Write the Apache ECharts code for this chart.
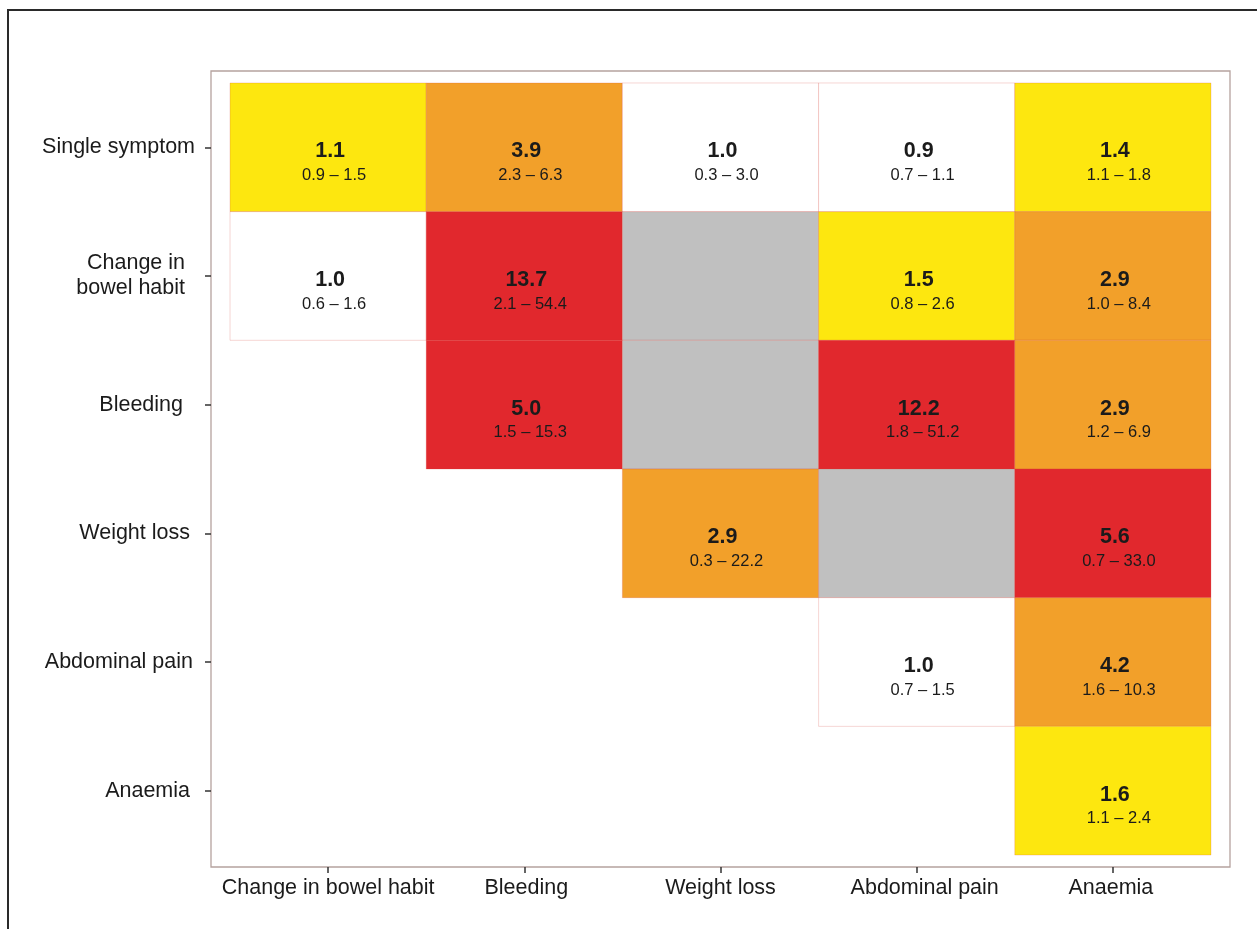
<!DOCTYPE html>
<html>
<head>
<meta charset="utf-8">
<title>Symptom combinations – odds ratios</title>
<script src="https://cdn.jsdelivr.net/npm/echarts@6/dist/echarts.min.js"></script>
<style>
  html, body { margin: 0; padding: 0; background: #ffffff; }
  #chart { width: 1257px; height: 929px; }
</style>
</head>
<body>
<div id="chart"></div>
<script>
// Row (y) and column (x) categories
const rowLabels = ['Single symptom', 'Change in\nbowel habit', 'Bleeding', 'Weight loss', 'Abdominal pain', 'Anaemia'];
const colLabels = ['Change in bowel habit', 'Bleeding', 'Weight loss', 'Abdominal pain', 'Anaemia'];

// One entry per tile: row index, column index, odds ratio and its 95% CI.
// null odds ratio = combination without estimate (grey tile).
const cellRow   = [0,   0,   0,   0,   0,   1,   1,    1,    1,   1,   2,   2,    2,    2,   3,    3,    3,    4,   4,    5];
const cellCol   = [0,   1,   2,   3,   4,   0,   1,    2,    3,   4,   1,   2,    3,    4,   2,    3,    4,    3,   4,    4];
const oddsRatio = [1.1, 3.9, 1.0, 0.9, 1.4, 1.0, 13.7, null, 1.5, 2.9, 5.0, null, 12.2, 2.9, 2.9,  null, 5.6,  1.0, 4.2,  1.6];
const ciLow     = [0.9, 2.3, 0.3, 0.7, 1.1, 0.6, 2.1,  null, 0.8, 1.0, 1.5, null, 1.8,  1.2, 0.3,  null, 0.7,  0.7, 1.6,  1.1];
const ciHigh    = [1.5, 6.3, 3.0, 1.1, 1.8, 1.6, 54.4, null, 2.6, 8.4, 15.3, null, 51.2, 6.9, 22.2, null, 33.0, 1.5, 10.3, 2.4];

// Styling
const FONT = "'Liberation Sans', Arial, Helvetica, sans-serif";
const TEXT = '#1b1b1b';
const COLORS = { none: '#ffffff', low: '#fde70f', mid: '#f2a02a', high: '#e1282d', na: '#c0c0c0' };
// small per-label nudges of the axis captions (px)
const yLabelInset = [0, 10, 12, 5, 2, 5];
const xLabelShift = [0, 4, 0, 16, -4];

function tileColor(v) {
  if (v == null) return COLORS.na;
  if (v >= 5) return COLORS.high;
  if (v >= 2) return COLORS.mid;
  if (v > 1.0) return COLORS.low;
  return COLORS.none;
}

const tileData = cellCol.map((c, i) => [c, cellRow[i]]);

const yRich = {};
yLabelInset.forEach((p, i) => {
  yRich['r' + i] = { fontFamily: FONT, fontSize: 21.5, color: TEXT, lineHeight: 25, align: 'right', padding: [0, p, 0, 0] };
});
const xRich = {};
xLabelShift.forEach((s, i) => {
  xRich['c' + i] = { fontFamily: FONT, fontSize: 21.5, color: TEXT, padding: s >= 0 ? [0, 0, 0, s] : [0, -s, 0, 0] };
});

const chart = echarts.init(document.getElementById('chart'), null, { renderer: 'canvas' });

chart.setOption({
  backgroundColor: '#ffffff',
  animation: false,
  graphic: [{
    type: 'rect',
    silent: true,
    z: -10,
    shape: { x: 8, y: 10, width: 1400, height: 1100 },
    style: { fill: null, stroke: '#2a2a2a', lineWidth: 2 }
  }],
  grid: {
    left: 211, right: 27, top: 71, bottom: 62,
    show: true,
    borderColor: '#b5a29e',
    borderWidth: 1.3,
    backgroundColor: '#ffffff'
  },
  xAxis: {
    type: 'value',
    position: 'bottom',
    min: -0.597,
    max: 4.597,
    splitLine: { show: false },
    axisLine: { show: false, onZero: false },
    axisTick: {
      show: true, length: 6, customValues: [0, 1, 2, 3, 4],
      lineStyle: { color: '#333', width: 1.5 }
    },
    axisLabel: {
      customValues: [0, 1, 2, 3, 4],
      margin: 10,
      formatter: v => '{c' + v + '|' + colLabels[v] + '}',
      rich: xRich,
      fontFamily: FONT, fontSize: 21.5, color: TEXT
    }
  },
  yAxis: {
    type: 'value',
    position: 'left',
    inverse: true,
    min: -0.593,
    max: 5.593,
    splitLine: { show: false },
    axisLine: { show: false, onZero: false },
    axisTick: {
      show: true, length: 6, customValues: [0, 1, 2, 3, 4, 5],
      lineStyle: { color: '#333', width: 1.5 }
    },
    axisLabel: {
      customValues: [0, 1, 2, 3, 4, 5],
      margin: 16,
      formatter: v => rowLabels[v].split('\n').map(t => '{r' + v + '|' + t + '}').join('\n'),
      rich: yRich,
      fontFamily: FONT, fontSize: 21.5, color: TEXT
    }
  },
  series: [{
    type: 'custom',
    data: tileData,
    encode: { x: 0, y: 1 },
    clip: false,
    renderItem: function (params, api) {
      const i = params.dataIndex;
      const c = api.value(0), r = api.value(1);
      const p0 = api.coord([c - 0.5, r - 0.5]);
      const p1 = api.coord([c + 0.5, r + 0.5]);
      const x = Math.min(p0[0], p1[0]), y = Math.min(p0[1], p1[1]);
      const w = Math.abs(p1[0] - p0[0]), h = Math.abs(p1[1] - p0[1]);
      const ctr = api.coord([c, r]);
      const v = oddsRatio[i];
      const children = [{
        type: 'rect',
        shape: { x: x, y: y, width: w, height: h },
        style: { fill: tileColor(v), stroke: 'rgba(215,70,60,0.22)', lineWidth: 1 }
      }];
      if (v != null) {
        children.push({
          type: 'text',
          x: ctr[0] + 2, y: ctr[1] + 4,
          style: {
            text: v.toFixed(1), fill: TEXT, fontFamily: FONT, fontWeight: 'bold', fontSize: 21.5,
            align: 'center', verticalAlign: 'middle'
          }
        }, {
          type: 'text',
          x: ctr[0] + 6, y: ctr[1] + 28,
          style: {
            text: ciLow[i].toFixed(1) + ' \u2013 ' + ciHigh[i].toFixed(1), fill: TEXT, fontFamily: FONT, fontSize: 16.5,
            align: 'center', verticalAlign: 'middle'
          }
        });
      }
      return { type: 'group', children: children };
    }
  }]
});
</script>
</body>
</html>
